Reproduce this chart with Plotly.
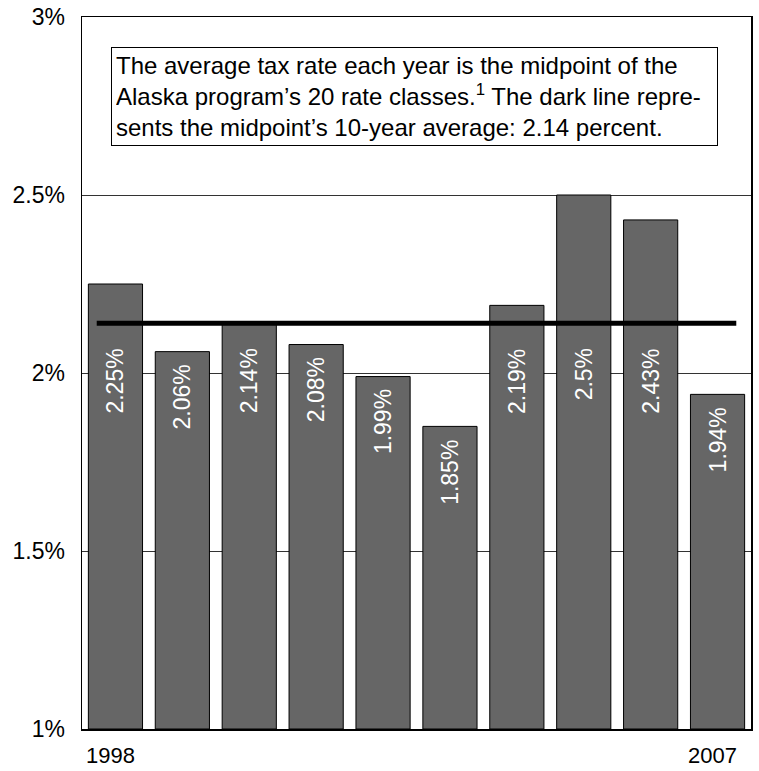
import plotly.graph_objects as go

years = [1998, 1999, 2000, 2001, 2002, 2003, 2004, 2005, 2006, 2007]
rates = [2.25, 2.06, 2.14, 2.08, 1.99, 1.85, 2.19, 2.50, 2.43, 1.94]
labels = ["2.25%", "2.06%", "2.14%", "2.08%", "1.99%", "1.85%", "2.19%", "2.5%", "2.43%", "1.94%"]
average = 2.14
y_ticks = [1, 1.5, 2, 2.5, 3]
y_ticktext = ["1%", "1.5%", "2%", "2.5%", "3%"]
note = ("The average tax rate each year is the midpoint of the<br>"
        "Alaska program’s 20 rate classes.<sup>1</sup> The dark line repre-<br>"
        "sents the midpoint’s 10-year average: 2.14 percent.")

FONT = "Liberation Sans, Arial, sans-serif"

fig = go.Figure()
fig.add_trace(go.Bar(
    x=years, y=[r - 1 for r in rates], base=1,
    marker=dict(color="#666666", line=dict(color="#000000", width=1)),
    width=0.81, hoverinfo="skip", showlegend=False,
))
fig.add_trace(go.Scatter(
    x=[years[0] - 0.28, years[-1] + 0.28], y=[average, average],
    mode="lines", line=dict(color="#000000", width=5),
    hoverinfo="skip", showlegend=False,
))

for yr, r, lab in zip(years, rates, labels):
    fig.add_annotation(
        x=yr, y=min(r, average - 0.035), xref="x", yref="y",
        text=lab, textangle=-90, showarrow=False,
        xanchor="center", yanchor="top", yshift=-11,
        font=dict(family=FONT, size=23, color="#ffffff"),
    )

fig.add_annotation(
    x=0.0433, y=0.9579, xref="paper", yref="paper",
    xanchor="left", yanchor="top", align="left",
    text=note, showarrow=False, width=597,
    font=dict(family=FONT, size=24, color="#000000"),
    bordercolor="#000000", borderwidth=1, borderpad=4, bgcolor="#ffffff",
)

fig.update_layout(
    width=759, height=771,
    margin=dict(l=82, r=8, t=17, b=42),
    paper_bgcolor="#ffffff", plot_bgcolor="#ffffff",
    font=dict(family=FONT, size=23, color="#000000"),
)
fig.update_xaxes(
    range=[years[0] - 0.5, years[-1] + 0.5],
    tickvals=[years[0], years[-1]], ticktext=[str(years[0]), str(years[-1])],
    tickfont=dict(size=22),
    showgrid=False, ticks="", ticklabelstandoff=6, ticklabelshift=-5,
    ticklabeloverflow="allow", automargin=False,
    showline=True, linecolor="#000000", linewidth=1.5, mirror=True,
    zeroline=False,
)
fig.update_yaxes(
    range=[1, 3], tickvals=y_ticks, ticktext=y_ticktext,
    showgrid=True, gridcolor="#333333", gridwidth=1,
    ticks="", ticklabelstandoff=11, ticklabeloverflow="allow", automargin=False,
    showline=True, linecolor="#000000", linewidth=1.5, mirror=True,
    zeroline=False,
)

fig.write_html(
    "out.html",
    config={"displayModeBar": False, "staticPlot": True},
    post_script=("document.documentElement.style.margin='0';"
                 "document.documentElement.style.overflow='hidden';"
                 "document.body.style.margin='0';"
                 "document.body.style.overflow='hidden';"),
)
